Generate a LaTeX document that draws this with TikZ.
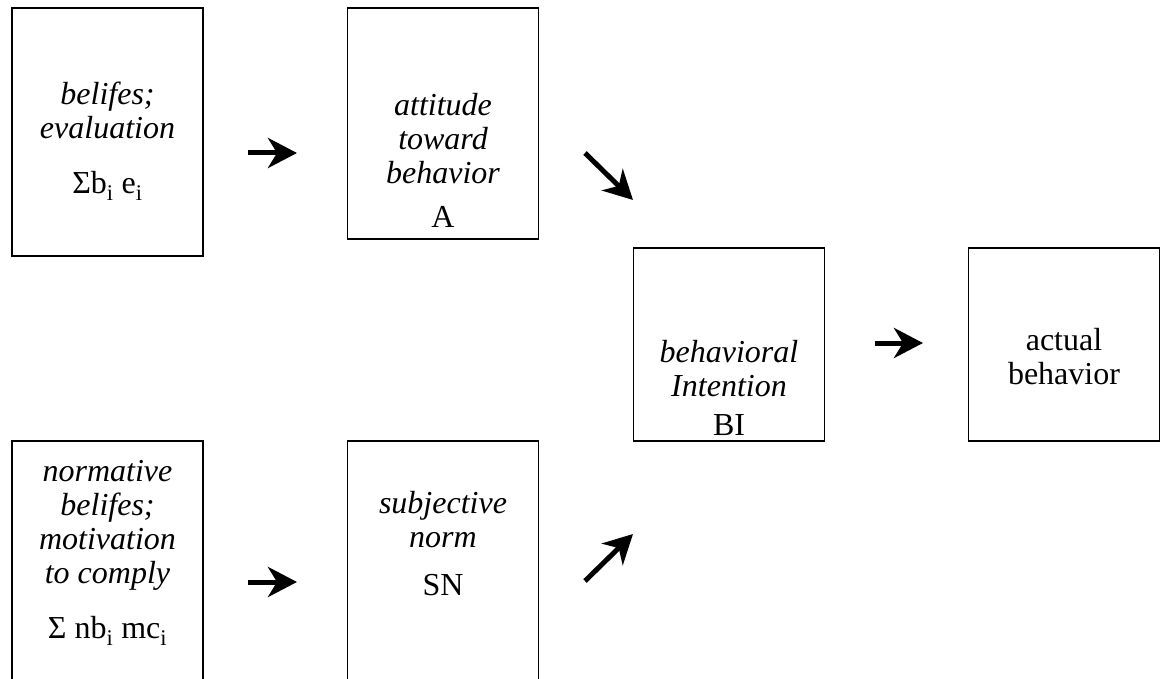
\documentclass[tikz,border=0pt]{standalone}
\usepackage{fontspec}
\setmainfont{Liberation Serif}
\usetikzlibrary{arrows.meta}
\begin{document}
\begin{tikzpicture}[x=1pt,y=-1pt,
  box/.style={draw=black, line width=1.6pt, rectangle, minimum width=191pt, inner sep=0pt},
  txt/.style={align=center, font=\fontsize{32}{34}\selectfont, inner sep=0pt},
  itxt/.style={txt, font=\fontsize{32}{34}\selectfont\itshape},
  arr/.style={line width=5pt, -{Stealth[length=29pt, width=30pt, inset=9pt]}}
]
\useasboundingbox (0,0) rectangle (1162,679);
\clip (0,0) rectangle (1162,679);
% boxes
\node[box, minimum height=248pt] (b1) at (107.5,132) {};
\node[box, minimum height=231pt] (b2) at (443,123.5) {};
\node[box, minimum height=193pt] (b3) at (729,344.5) {};
\node[box, minimum height=193pt] (b4) at (1064,344.5) {};
\node[box, minimum height=259pt] (b5) at (107.5,570.5) {};
\node[box, minimum height=259pt] (b6) at (443,570.5) {};
% texts
\node[itxt] (t1) at (107.5,110.5) {belifes;\\evaluation};
\node[txt] (f1) at (107.5,186) {Σb\textsubscript{i} e\textsubscript{i}};
\node[itxt] (t2) at (443,139) {attitude\\toward\\behavior};
\node[txt] (f2) at (443,217) {A};
\node[itxt] (t3) at (729,369) {behavioral\\Intention};
\node[txt] (f3) at (729,425) {BI};
\node[txt] (t4) at (1064,357) {actual\\behavior};
\node[itxt] (t5) at (107.5,525) {normative\\belifes;\\motivation\\to comply};
\node[txt] (f5) at (107.5,631) {Σ nb\textsubscript{i} mc\textsubscript{i}};
\node[itxt] (t6) at (443,520) {subjective\\norm};
\node[txt] (f6) at (443,585) {SN};
% arrow end points
\coordinate (a1s) at (248,153);
\coordinate (a1e) at (297,153);
\coordinate (a2s) at (585,153);
\coordinate (a2e) at (633,200);
\coordinate (a3s) at (875,343);
\coordinate (a3e) at (923,343);
\coordinate (a4s) at (248,582);
\coordinate (a4e) at (297,582);
\coordinate (a5s) at (585,581);
\coordinate (a5e) at (633,534);
\draw[arr] (a1s) -- (a1e);
\draw[arr] (a2s) -- (a2e);
\draw[arr] (a3s) -- (a3e);
\draw[arr] (a4s) -- (a4e);
\draw[arr] (a5s) -- (a5e);
\end{tikzpicture}
\end{document}
